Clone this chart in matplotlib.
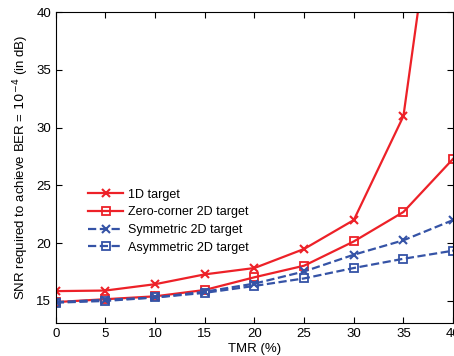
import matplotlib
matplotlib.use('Agg')
from matplotlib import pyplot as plt

# data
tmr = [0, 5, 10, 15, 20, 25, 30, 35, 40]
snr_1d = [15.85, 15.9, 16.45, 17.3, 17.85, 19.5, 22.0, 31.0, 62.0]
snr_zero_corner = [14.9, 15.15, 15.4, 15.95, 17.05, 18.05, 20.15, 22.7, 27.3]
snr_symmetric = [14.9, 15.1, 15.3, 15.8, 16.5, 17.55, 19.0, 20.25, 22.0]
snr_asymmetric = [14.85, 15.0, 15.3, 15.7, 16.3, 16.95, 17.85, 18.65, 19.35]
labels = ['1D target', 'Zero-corner 2D target', 'Symmetric 2D target', 'Asymmetric 2D target']

plt.rcParams['font.family'] = ['Liberation Sans', 'DejaVu Sans']

red = '#ED2128'
blue = '#3553A6'

fig = plt.figure(figsize=(4.54, 3.56), dpi=100)
ax = fig.add_axes([0.123, 0.093, 0.875, 0.873])

ax.plot(tmr, snr_1d, color=red, lw=1.6, marker='x', ms=5.5, mew=1.5, label=labels[0])
ax.plot(tmr, snr_zero_corner, color=red, lw=1.6, marker='s', ms=5.5, mew=1.3, mfc='none', label=labels[1])
ax.plot(tmr, snr_symmetric, color=blue, lw=1.6, ls='--', marker='x', ms=5.5, mew=1.5, label=labels[2])
ax.plot(tmr, snr_asymmetric, color=blue, lw=1.6, ls='--', marker='s', ms=5.5, mew=1.3, mfc='none', label=labels[3])

ax.set_xlim(0, 40)
ax.set_ylim(13.1, 40)
ax.set_xticks(range(0, 41, 5))
ax.set_yticks(range(15, 41, 5))
ax.tick_params(direction='in', top=True, right=True, labelsize=9.5, length=4)
ax.set_xlabel('TMR (%)', fontsize=9.5, labelpad=2)
ax.set_ylabel('SNR required to achieve BER = $10^{-4}$ (in dB)', fontsize=9.5, labelpad=4)

ax.legend(loc='upper left', bbox_to_anchor=(0.06, 0.46), frameon=False, fontsize=9,
          handlelength=2.8, handletextpad=0.4, labelspacing=0.45, borderpad=0.2)

fig.savefig('out.png', dpi=100)
